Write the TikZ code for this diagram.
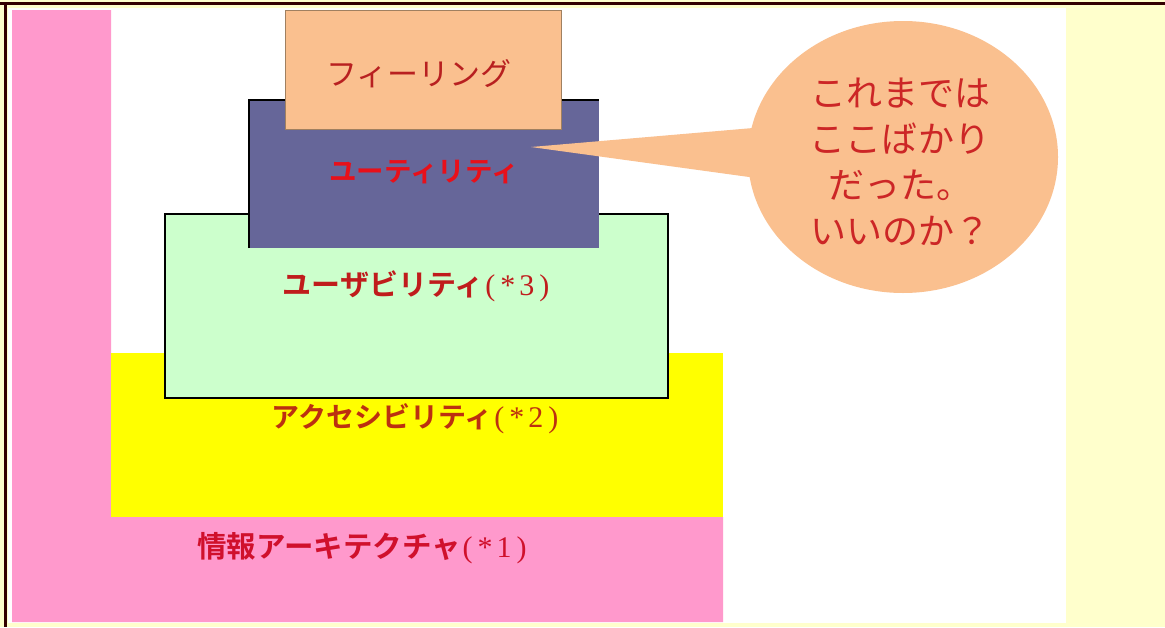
\documentclass[tikz,border=0pt]{standalone}
\usepackage{fontspec}
\newfontfamily\jp{Noto Sans CJK JP}[BoldFont={Noto Sans CJK JP Bold}]
\newfontfamily\ser{Liberation Serif}
\usetikzlibrary{shapes.geometric}
\definecolor{bgyellow}{HTML}{FFFFCC}
\definecolor{framec}{HTML}{330000}
\definecolor{pinkc}{HTML}{FF99CC}
\definecolor{yellowc}{HTML}{FFFF00}
\definecolor{greenc}{HTML}{CCFFCC}
\definecolor{slatec}{HTML}{666699}
\definecolor{peachc}{HTML}{FAC08F}
\definecolor{peachedge}{HTML}{A08060}
\definecolor{feelred}{HTML}{B82020}
\definecolor{utilred}{HTML}{E8101A}
\definecolor{usared}{HTML}{C01C1C}
\definecolor{accred}{HTML}{BC3010}
\definecolor{infored}{HTML}{D0102C}
\definecolor{callred}{HTML}{CC2626}
\newcommand\starref[1]{{\ser\mdseries\fontsize{30}{32}\selectfont\hspace{2pt}(\hspace{5pt}*\hspace{4pt}#1\hspace{5pt})}}
\tikzset{
  layer/.style={anchor=north west, inner sep=0pt, outer sep=0pt},
  boxed/.style={layer, draw=black, line width=1.4pt},
  lbl/.style={inner sep=0pt, font=\jp\bfseries\fontsize{29}{32}\selectfont}
}
\begin{document}
\begin{tikzpicture}[x=1pt,y=-1pt]
\useasboundingbox (0,0) rectangle (1165,627);
% page background and frame
\fill[bgyellow] (0,0) rectangle (1165,627);
\fill[white] (8,8) rectangle (1066,623);
\fill[framec] (0,2) rectangle (1165,5);
\fill[framec] (4,2) rectangle (7,627);
% information architecture (pink L shape)
\fill[pinkc] (12,10) -- (111,10) -- (111,517) -- (723,517) -- (723,622) -- (12,622) -- cycle;
% accessibility
\node[layer, fill=yellowc, minimum width=612pt, minimum height=164pt] (acc) at (111,353) {};
% usability
\node[boxed, fill=greenc, minimum width=503pt, minimum height=184pt] (usa) at (165,214) {};
% utility
\node[layer, fill=slatec, minimum width=350pt, minimum height=148pt] (util) at (249,100) {};
\draw[black, line width=1.4pt] (util.south west) -- (util.north west) -- (util.north east);
% feeling
\node[layer, fill=peachc, draw=peachedge, line width=0.8pt, minimum width=276pt, minimum height=119pt] (feel) at (285,10) {};
% callout
\node[ellipse, fill=peachc, inner sep=0pt, minimum width=310pt, minimum height=272pt] (callout) at (903,157) {};
\coordinate (tip) at (531,147);
\coordinate (wtop) at (800,124);
\coordinate (wbot) at (800,184);
\fill[peachc] (tip) -- (wtop) -- (wbot) -- cycle;
% labels
\node[inner sep=0pt, text=feelred, font=\jp\fontsize{31}{34}\selectfont] (feeltxt) at (419,74) {フィーリング};
\node[lbl, text=utilred, font=\jp\bfseries\fontsize{27.5}{30}\selectfont] (utiltxt) at (424,172) {ユーティリティ};
\node[lbl, text=usared] (usatxt) at (416,286) {ユーザビリティ\starref{3}};
\node[lbl, text=accred, font=\jp\bfseries\fontsize{28}{30}\selectfont] (acctxt) at (415,419) {アクセシビリティ\starref{2}};
\node[lbl, text=infored, font=\jp\bfseries\fontsize{29.5}{32}\selectfont] (infotxt) at (362,548) {情報アーキテクチャ\starref{1}};
\node[inner sep=0pt, text=callred, align=center, font=\jp\fontsize{36}{46}\selectfont] (calltxt) at (900,162) {これまでは\\ここばかり\\だった。\\いいのか？};
\end{tikzpicture}
\end{document}
